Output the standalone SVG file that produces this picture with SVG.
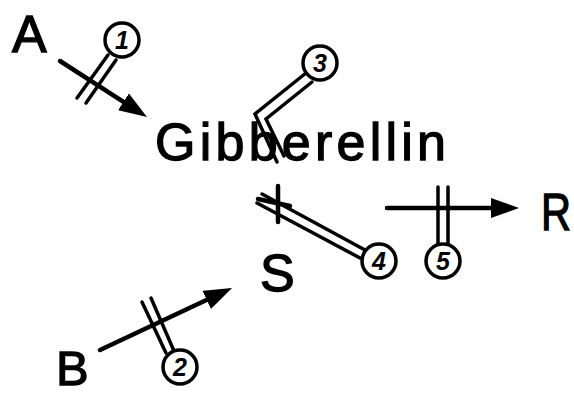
<svg xmlns="http://www.w3.org/2000/svg" width="574" height="395" viewBox="0 0 574 395">
<style>
.lbl{font-family:"Liberation Sans","DejaVu Sans",sans-serif;font-size:52px;fill:#000;stroke:#000;stroke-width:1.3}
.num{font-family:"Liberation Sans","DejaVu Sans",sans-serif;font-size:25px;font-style:italic;font-weight:bold;fill:#000;text-anchor:middle}
.circ{fill:#fff;stroke:#000;stroke-width:3.5}
.arr{fill:none;stroke:#000;stroke-width:4.5;stroke-linecap:round}
.dbl{fill:none;stroke:#000;stroke-width:3.5;stroke-linecap:round;stroke-linejoin:miter}
</style>
<defs>
<marker id="ah" viewBox="0 0 28 20" refX="18" refY="10" markerWidth="28" markerHeight="20" markerUnits="userSpaceOnUse" orient="auto">
<path d="M0,0 L28,10 L0,20 z" fill="#000"/>
</marker>
</defs>
<rect width="574" height="395" fill="#fff"/>
<g id="connectors">
<line class="arr" x1="60" y1="61" x2="138.6" y2="111.6" marker-end="url(#ah)"/>
<line class="arr" x1="100" y1="350" x2="223" y2="292.3" marker-end="url(#ah)"/>
<line class="arr" x1="387" y1="208" x2="509" y2="208" marker-end="url(#ah)"/>
<line class="dbl" x1="108" y1="55" x2="77" y2="98"/>
<line class="dbl" x1="116" y1="60" x2="86" y2="103"/>
<line class="dbl" x1="142" y1="302" x2="166" y2="353"/>
<line class="dbl" x1="151" y1="298" x2="174" y2="351"/>
<polyline class="dbl" points="306,73 255,114 277,162"/>
<polyline class="dbl" points="312,82 266,119 284,156"/>
<line class="dbl" x1="438" y1="187" x2="438" y2="245"/>
<line class="dbl" x1="448" y1="187" x2="448" y2="245"/>
<line class="dbl" x1="262" y1="194" x2="365" y2="250"/>
<line class="dbl" x1="257" y1="203" x2="360" y2="258"/>
<line class="arr" x1="278" y1="186" x2="278" y2="222"/>
<line class="arr" x1="258" y1="199" x2="290" y2="206"/>
</g>
<g id="node-A"><text class="lbl" x="12" y="52">A</text></g>
<g id="node-B"><text class="lbl" x="56" y="385" style="font-size:49px">B</text></g>
<g id="node-S"><text class="lbl" x="260" y="291">S</text></g>
<g id="node-R"><text class="lbl" transform="translate(541,230) scale(0.8,1)" x="0" y="0">R</text></g>
<g id="node-Gibberellin"><text class="lbl" x="155" y="160" textLength="291" lengthAdjust="spacing">Gibberellin</text></g>
<g id="c1"><circle class="circ" cx="122" cy="40" r="17"/><text class="num" x="122" y="49">1</text></g>
<g id="c2"><circle class="circ" cx="180" cy="367" r="17"/><text class="num" x="180" y="376">2</text></g>
<g id="c3"><circle class="circ" cx="320" cy="63" r="17"/><text class="num" x="320" y="72">3</text></g>
<g id="c4"><circle class="circ" cx="379" cy="261" r="17"/><text class="num" x="379" y="270">4</text></g>
<g id="c5"><circle class="circ" cx="443" cy="261" r="17"/><text class="num" x="443" y="270">5</text></g>
</svg>
